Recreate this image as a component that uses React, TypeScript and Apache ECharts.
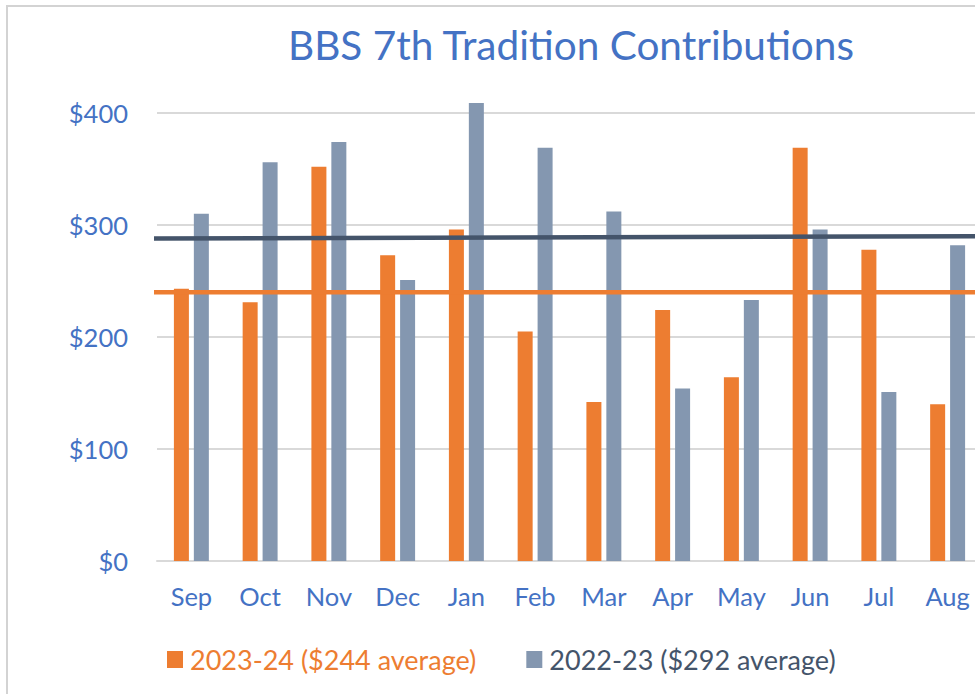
import React, { useEffect, useRef } from "react";
import * as echarts from "echarts";

const months = ["Sep", "Oct", "Nov", "Dec", "Jan", "Feb", "Mar", "Apr", "May", "Jun", "Jul", "Aug"];
const contrib2324 = [243, 231, 352, 273, 296, 205, 142, 224, 164, 369, 278, 140];
const contrib2223 = [310, 356, 374, 251, 409, 369, 312, 154, 233, 296, 151, 282];
const seriesNames = ["2023-24 ($244 average)", "2022-23 ($292 average)"];
const avgLine2324 = [240, 240];
const avgLine2223 = [288, 290];
const yTicks = [0, 100, 200, 300, 400];

const ORANGE = "#ED7D31";
const BLUEGRAY = "#8497B0";
const DARK = "#44546A";
const TEXTBLUE = "#4472C4";
const FONT = "Lato";

export default function App() {
  const ref = useRef<HTMLDivElement>(null);
  useEffect(() => {
    if (!ref.current) return;
    const chart = echarts.init(ref.current, undefined, { renderer: "svg" });
    const span = [-0.11, 12.3];
    chart.setOption({
      animation: false,
      backgroundColor: "#ffffff",
      title: {
        text: "BBS 7th Tradition Contributions",
        left: 283,
        top: 19,
        textStyle: { color: TEXTBLUE, fontSize: 40.5, fontWeight: "normal", fontFamily: FONT },
      },
      graphic: [
        {
          type: "rect",
          silent: true,
          z: -10,
          shape: { x: 7, y: 6, width: 1000, height: 1000 },
          style: { fill: "none", stroke: "#D3D3D3", lineWidth: 2 },
        },
      ],
      legend: {
        left: 162,
        top: 641,
        icon: "rect",
        itemWidth: 16,
        itemHeight: 17,
        itemGap: 50,
        textStyle: { fontSize: 27, fontFamily: FONT, padding: [0, 0, 0, 2] },
        data: [
          { name: seriesNames[0], textStyle: { color: ORANGE } },
          { name: seriesNames[1], textStyle: { color: DARK } },
        ],
      },
      grid: { left: 157, right: 8, top: 113, height: 448, containLabel: false },
      xAxis: [
        {
          type: "category",
          data: months,
          axisTick: { show: false },
          axisLine: { lineStyle: { color: "#D9D9D9", width: 2 } },
          axisLabel: { color: TEXTBLUE, fontSize: 25.5, fontFamily: FONT, margin: 22 },
        },
        { type: "value", min: 0, max: 12, show: false },
      ],
      yAxis: {
        type: "value",
        min: yTicks[0],
        max: yTicks[yTicks.length - 1],
        interval: 100,
        axisLine: { show: false },
        axisTick: { show: false },
        splitLine: { lineStyle: { color: "#D9D9D9", width: 2 } },
        axisLabel: {
          color: TEXTBLUE,
          fontSize: 25.5,
          fontFamily: FONT,
          margin: 29,
          formatter: (v: number) => "$" + v,
        },
      },
      series: [
        {
          name: seriesNames[0],
          type: "bar",
          data: contrib2324,
          barWidth: 15,
          barGap: "33%",
          clip: false,
          itemStyle: { color: ORANGE },
        },
        {
          name: seriesNames[1],
          type: "bar",
          data: contrib2223,
          barWidth: 15,
          clip: false,
          itemStyle: { color: BLUEGRAY },
        },
        {
          name: "avg2324",
          type: "line",
          xAxisIndex: 1,
          clip: false,
          symbol: "none",
          z: 5,
          lineStyle: { color: ORANGE, width: 4.5 },
          data: [
            [span[0], avgLine2324[0]],
            [span[1], avgLine2324[1]],
          ],
        },
        {
          name: "avg2223",
          type: "line",
          xAxisIndex: 1,
          clip: false,
          symbol: "none",
          z: 5,
          lineStyle: { color: DARK, width: 4.5 },
          data: [
            [span[0], avgLine2223[0]],
            [span[1], avgLine2223[1]],
          ],
        },
      ],
    });
    return () => chart.dispose();
  }, []);
  return (
    <div
      style={{
        position: "fixed",
        left: 0,
        top: 0,
        width: 975,
        height: 694,
        overflow: "hidden",
        background: "#fff",
      }}
    >
      <div ref={ref} style={{ width: 990, height: 694 }} />
    </div>
  );
}
